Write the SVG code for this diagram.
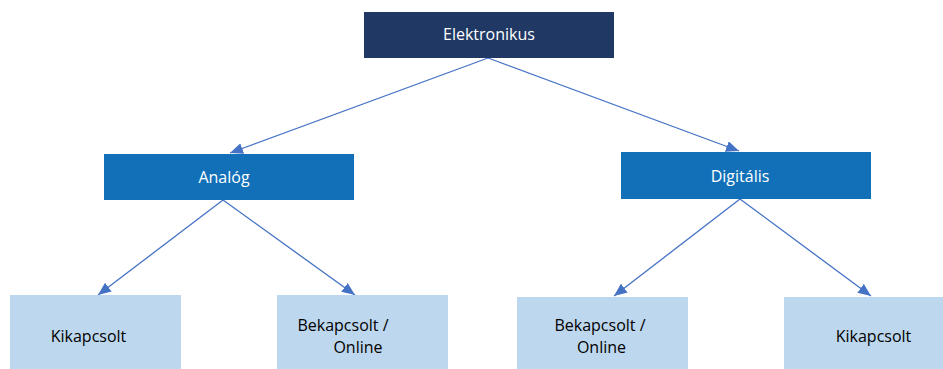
<svg xmlns="http://www.w3.org/2000/svg" width="943" height="369" viewBox="0 0 943 369">
<style>
.t{font-family:"Open Sans","Noto Sans","Liberation Sans",sans-serif;font-size:16px;text-anchor:middle}
.w{fill:#ffffff}
.b{fill:#000000}
.c{stroke:#4472C4;stroke-width:1.3;fill:none;marker-end:url(#ah)}
</style>
<defs>
<marker id="ah" viewBox="0 0 13 11" refX="13" refY="5.5" markerWidth="13" markerHeight="11" markerUnits="userSpaceOnUse" orient="auto">
<path d="M0,0 L13,5.5 L0,11 Z" fill="#4472C4"/>
</marker>
</defs>
<rect width="943" height="369" fill="#ffffff"/>
<g id="connectors">
<line class="c" x1="488" y1="58" x2="230" y2="153"/>
<line class="c" x1="488" y1="58" x2="739" y2="151"/>
<line class="c" x1="223" y1="200" x2="98" y2="295"/>
<line class="c" x1="223" y1="200" x2="355" y2="295"/>
<line class="c" x1="740" y1="199" x2="614" y2="296"/>
<line class="c" x1="740" y1="199" x2="871" y2="296"/>
</g>
<g id="elektronikus">
<rect x="364" y="12" width="250" height="46" fill="#203864"/>
<text class="t w" x="489" y="40">Elektronikus</text>
</g>
<g id="analog">
<rect x="104" y="154" width="250" height="46" fill="#1170B8"/>
<text class="t w" x="224" y="183">Analóg</text>
</g>
<g id="digitalis">
<rect x="621" y="152" width="250" height="47" fill="#1170B8"/>
<text class="t w" x="740" y="182">Digitális</text>
</g>
<g id="kikapcsolt-1">
<rect x="10" y="295" width="171" height="74" fill="#BDD7EE"/>
<text class="t b" x="88.5" y="342">Kikapcsolt</text>
</g>
<g id="bekapcsolt-1">
<rect x="277" y="295" width="171" height="74" fill="#BDD7EE"/>
<text class="t b" x="343" y="331">Bekapcsolt /</text>
<text class="t b" x="358" y="353">Online</text>
</g>
<g id="bekapcsolt-2">
<rect x="517" y="297" width="171" height="72" fill="#BDD7EE"/>
<text class="t b" x="600" y="331">Bekapcsolt /</text>
<text class="t b" x="601.5" y="353">Online</text>
</g>
<g id="kikapcsolt-2">
<rect x="784" y="297" width="171" height="72" fill="#BDD7EE"/>
<text class="t b" x="873.5" y="342">Kikapcsolt</text>
</g>
</svg>
